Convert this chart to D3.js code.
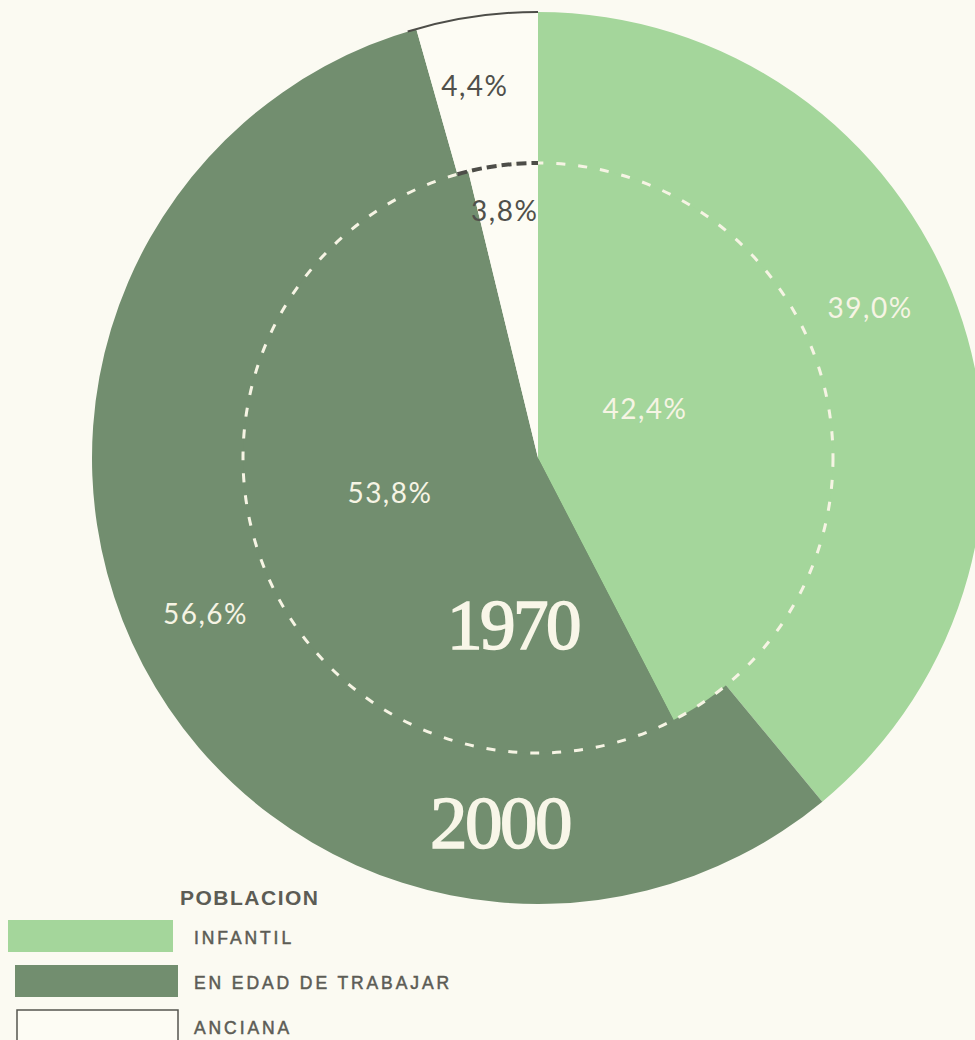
<!DOCTYPE html>
<html>
<head>
<meta charset="utf-8">
<script src="https://cdn.jsdelivr.net/npm/d3@7"></script>
<style>
  body { margin: 0; background: #fbfaf2; }
  svg { display: block; }
</style>
</head>
<body>
<div id="grafico"></div>
<script>
// categorias y valores (%)
var categorias = ["INFANTIL", "EN EDAD DE TRABAJAR", "ANCIANA"];
var valores2000 = [39.0, 56.6, 4.4];
var valores1970 = [42.4, 53.8, 3.8];
var etiquetas2000 = ["39,0%", "56,6%", "4,4%"];
var etiquetas1970 = ["42,4%", "53,8%", "3,8%"];
var anios = ["1970", "2000"];
var tituloLeyenda = "POBLACION";

var width = 975, height = 1040;
var cx = 538, cy = 458;
var radioExt = 446, radioInt = 295;

var color = d3.scaleOrdinal()
  .domain(categorias)
  .range(["#a4d69b", "#728e6f", "#fdfcf4"]);

var svg = d3.select("#grafico").append("svg")
  .attr("width", width)
  .attr("height", height);

var g = svg.append("g")
  .attr("transform", "translate(" + cx + "," + cy + ")");

var pie = d3.pie().sort(null).value(function(d){ return d; });

var arcExt = d3.arc().innerRadius(0).outerRadius(radioExt);
var arcInt = d3.arc().innerRadius(0).outerRadius(radioInt);

var pie2000 = pie(valores2000);
var pie1970 = pie(valores1970);

// 2000: circulo completo
g.selectAll(".ext")
  .data(pie2000)
  .enter().append("path")
  .attr("class", "ext")
  .attr("d", arcExt)
  .attr("fill", function(d, i){ return color(categorias[i]); });

// 1970: circulo interior
g.selectAll(".int")
  .data(pie1970)
  .enter().append("path")
  .attr("class", "int")
  .attr("d", arcInt)
  .attr("fill", function(d, i){ return color(categorias[i]); });

// borde oscuro arriba de la porcion blanca
var anc = pie2000[2];
g.append("path")
  .attr("d", d3.arc().innerRadius(radioExt - 1).outerRadius(radioExt + 1)
    .startAngle(anc.startAngle - 0.02).endAngle(anc.endAngle)())
  .attr("fill", "#4d4d48");

// circulo punteado (1970)
g.append("circle")
  .attr("r", radioInt)
  .attr("fill", "none")
  .attr("stroke", "#f6f4e4")
  .attr("stroke-width", 3)
  .attr("stroke-dasharray", "9 13");

// guiones oscuros sobre la zona blanca
var p = d3.path();
p.arc(0, 0, radioInt, anc.startAngle - Math.PI / 2, anc.endAngle - Math.PI / 2);
g.append("path")
  .attr("d", p.toString())
  .attr("fill", "none")
  .attr("stroke", "#4d4d48")
  .attr("stroke-width", 4)
  .attr("stroke-dasharray", "10 5");

// posiciones de etiquetas: [desplazamiento angular (grados), radio]
var posEt2000 = [[-4.7, 365], [2.7, 367], [-1.7, 378]];
var posEt1970 = [[-11.3, 118], [7.5, 152], [-0.8, 250]];

function polar(d, off){
  var a = (d.startAngle + d.endAngle) / 2 + off[0] * Math.PI / 180;
  return [Math.sin(a) * off[1], -Math.cos(a) * off[1]];
}

function etiquetar(datosPie, textos, pos){
  g.selectAll(null)
    .data(datosPie)
    .enter().append("text")
    .attr("transform", function(d, i){ return "translate(" + polar(d, pos[i]) + ")"; })
    .attr("text-anchor", "middle")
    .attr("dominant-baseline", "central")
    .attr("font-family", "Lato, 'Open Sans', sans-serif")
    .attr("font-size", 28)
    .attr("letter-spacing", 1.5)
    .attr("fill", function(d, i){ return i == 2 ? "#50504b" : "#f6f4e4"; })
    .text(function(d, i){ return textos[i]; });
}
etiquetar(pie2000, etiquetas2000, posEt2000);
etiquetar(pie1970, etiquetas1970, posEt1970);

// años
var posAnios = [[-25, 167], [-38, 364]];
g.selectAll(".anio")
  .data(anios)
  .enter().append("text")
  .attr("class", "anio")
  .attr("x", function(d, i){ return posAnios[i][0]; })
  .attr("y", function(d, i){ return posAnios[i][1]; })
  .attr("text-anchor", "middle")
  .attr("dominant-baseline", "central")
  .attr("font-family", "'Liberation Serif', 'DejaVu Serif', serif")
  .attr("font-size", function(d, i){ return i == 0 ? 71 : 75; })
  .attr("letter-spacing", -2.5)
  .attr("fill", "#f8f6e8")
  .attr("stroke", "#f8f6e8")
  .attr("stroke-width", 1.6)
  .text(function(d){ return d; });

// leyenda
var leyenda = svg.append("g");
leyenda.append("text")
  .attr("x", 180).attr("y", 897)
  .attr("dominant-baseline", "central")
  .attr("font-family", "'Liberation Sans', Arial, sans-serif")
  .attr("font-weight", "bold")
  .attr("font-size", 21)
  .attr("letter-spacing", 1.5)
  .attr("fill", "#5c5c55")
  .text(tituloLeyenda);

var filas = leyenda.selectAll(".fila")
  .data(categorias)
  .enter().append("g")
  .attr("class", "fila")
  .attr("transform", function(d, i){ return "translate(0," + (936 + i * 45) + ")"; });

filas.append("rect")
  .attr("x", function(d, i){ return [8, 15, 17][i]; })
  .attr("y", -16)
  .attr("width", function(d, i){ return [165, 163, 161][i]; })
  .attr("height", 32)
  .attr("fill", function(d){ return color(d); })
  .attr("stroke", function(d, i){ return i == 2 ? "#55554f" : "none"; })
  .attr("stroke-width", 1.5);

filas.append("text")
  .attr("x", 194)
  .attr("y", 2)
  .attr("dominant-baseline", "central")
  .attr("font-family", "'Liberation Sans', Arial, sans-serif")
  .attr("font-size", 17.5)
  .attr("letter-spacing", 2.9)
  .attr("fill", "#5c5c55")
  .attr("stroke", "#5c5c55")
  .attr("stroke-width", 0.5)
  .text(function(d){ return d; });
</script>
</body>
</html>
